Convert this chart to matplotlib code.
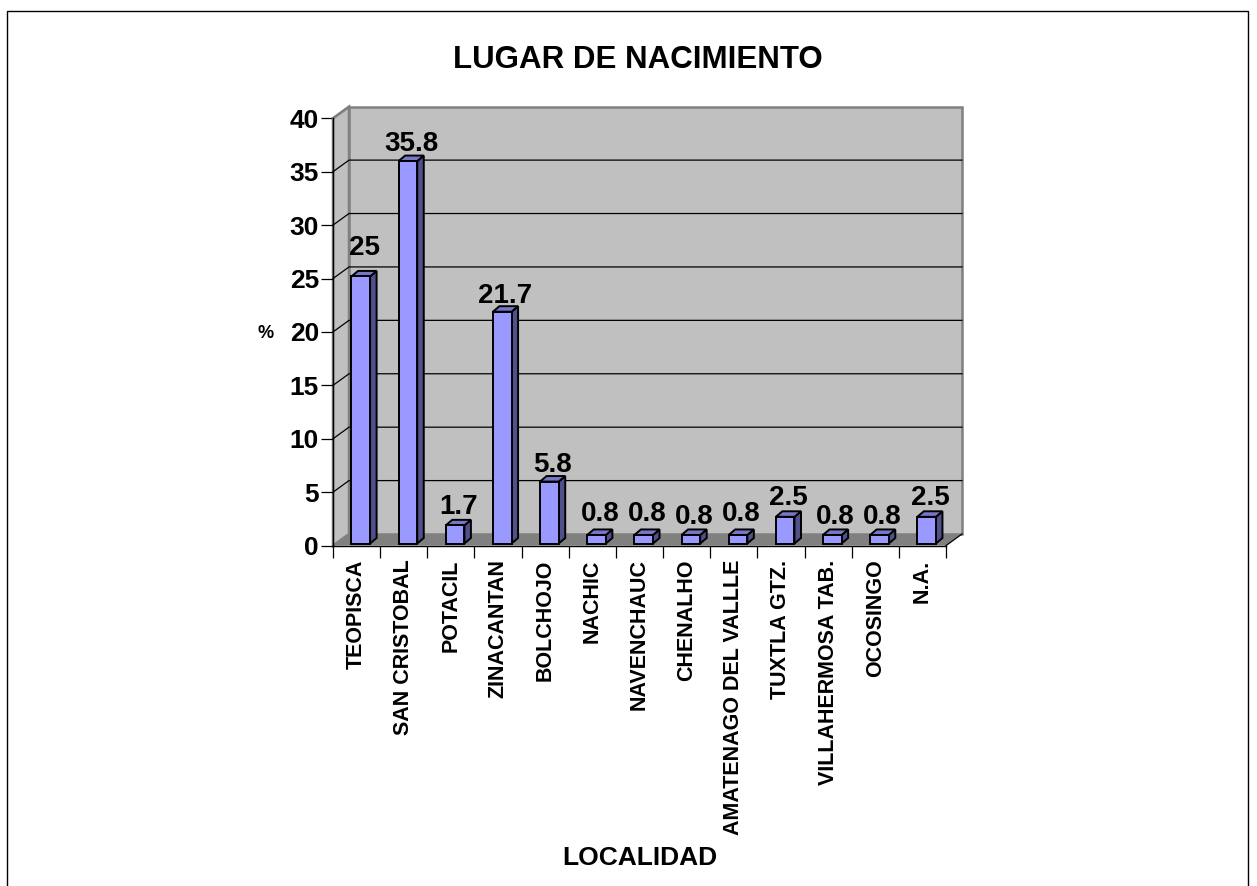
import matplotlib
matplotlib.use("Agg")
import matplotlib.pyplot as plt
from matplotlib.lines import Line2D
from matplotlib.patches import Polygon

plt.rcParams['font.family'] = ['Liberation Sans', 'DejaVu Sans']

categories = ["TEOPISCA", "SAN CRISTOBAL", "POTACIL", "ZINACANTAN", "BOLCHOJO", "NACHIC",
              "NAVENCHAUC", "CHENALHO", "AMATENAGO DEL VALLLE", "TUXTLA GTZ.",
              "VILLAHERMOSA TAB.", "OCOSINGO", "N.A."]
values = [25, 35.8, 1.7, 21.7, 5.8, 0.8, 0.8, 0.8, 0.8, 2.5, 0.8, 0.8, 2.5]
labels = ["25", "35.8", "1.7", "21.7", "5.8", "0.8", "0.8", "0.8", "0.8", "2.5", "0.8", "0.8", "2.5"]
y_ticks = [0, 5, 10, 15, 20, 25, 30, 35, 40]
label_lift_px = [23, 11.5, 13, 10.5, 11.5, 15.5, 15.5, 12.5, 15.5, 13.5, 12.5, 12.5, 13.5]

W, H = 1257, 886
fig = plt.figure(figsize=(W / 100, H / 100), dpi=100, facecolor='white')

# front plane of the 3-D box
L, R, TOP, BOT = 333, 946, 118.3, 545.6
ax = fig.add_axes([L / W, 1 - BOT / H, (R - L) / W, (BOT - TOP) / H])
ax.set_xlim(0, len(categories))
ax.set_ylim(0, 40)
ax.patch.set_visible(False)

px_x = (R - L) / len(categories)
px_y = (BOT - TOP) / 40
wall_dx, wall_dy = 16 / px_x, 11.6 / px_y
n, ymax = len(categories), 40
GRAY, EDGE = '#C0C0C0', '#808080'


def poly(pts, fc, ec='none', lw=0.0, z=1):
    ax.add_patch(Polygon(pts, closed=True, facecolor=fc, edgecolor=ec, linewidth=lw,
                         zorder=z, clip_on=False, joinstyle='miter'))


# left wall, back wall, floor
poly([(0, 0), (wall_dx, wall_dy), (wall_dx, ymax + wall_dy), (0, ymax)], GRAY, EDGE, 1.8, z=1)
poly([(wall_dx, wall_dy), (n + wall_dx, wall_dy), (n + wall_dx, ymax + wall_dy), (wall_dx, ymax + wall_dy)],
     GRAY, EDGE, 1.8, z=1)
poly([(0, 0), (n, 0), (n + wall_dx, wall_dy), (wall_dx, wall_dy)], EDGE, z=2)

# gridlines
for t in y_ticks[1:-1]:
    ax.plot([0, wall_dx, n + wall_dx], [t, t + wall_dy, t + wall_dy], color='black', lw=0.9,
            zorder=3, clip_on=False, solid_joinstyle='miter')
ax.plot([0, wall_dx], [ymax, ymax + wall_dy], color=EDGE, lw=1.6, zorder=3, clip_on=False)
ax.plot([n, n + wall_dx], [0, wall_dy], color='black', lw=0.9, zorder=3, clip_on=False)

# bars
bar_start, bar_w = 0.392, 0.395
bar_base = 2.1 / px_y
depth_x, depth_y = 6.5 / px_x, 5.5 / px_y
for i, v in enumerate(values):
    x0, x1 = i + bar_start, i + bar_start + bar_w
    y0, y1 = bar_base, bar_base + v
    poly([(x1, y0), (x1 + depth_x, y0 + depth_y), (x1 + depth_x, y1 + depth_y), (x1, y1)],
         '#50508C', 'black', 1.4, z=4)
    poly([(x0, y1), (x1, y1), (x1 + depth_x, y1 + depth_y), (x0 + depth_x, y1 + depth_y)],
         '#7777C8', 'black', 1.4, z=4)
    ax.bar(i + bar_start + bar_w / 2, v, width=bar_w, bottom=bar_base, color='#9999FF',
           edgecolor='black', linewidth=1.4, zorder=5, clip_on=False)
    ax.annotate(labels[i], (x0 + depth_x / 2 + bar_w / 2, y1 + depth_y),
                xytext=(0, label_lift_px[i] * 0.72), textcoords='offset points',
                ha='center', va='center', fontsize=20,
                fontweight='bold', color='black', zorder=6, annotation_clip=False)

# axes
for s in ('top', 'right'):
    ax.spines[s].set_visible(False)
for s in ('left', 'bottom'):
    ax.spines[s].set_linewidth(1.0)
    ax.spines[s].set_zorder(7)
ax.set_yticks(y_ticks)
ax.set_yticklabels([str(t) for t in y_ticks], fontsize=19, fontweight='bold')
ax.tick_params(axis='y', length=8.6, width=0.9, pad=1.5)
ax.set_xticks(range(n + 1))
ax.set_xticklabels([])
ax.tick_params(axis='x', which='major', length=8.6, width=0.9)
ax.set_xticks([i + 0.5 for i in range(n)], minor=True)
ax.set_xticklabels(categories, minor=True, rotation=90, fontsize=15.5, fontweight='bold')
ax.tick_params(axis='x', which='minor', length=0, pad=10)
for lab in ax.get_xticklabels(minor=True):
    lab.set_verticalalignment('top')
    lab.set_horizontalalignment('center')

# titles
def ftext(x, y, s, size, **kw):
    fig.text(x / W, 1 - y / H, s, fontsize=size, fontweight='bold', ha='center', va='center', **kw)

ftext(638, 59.5, "LUGAR DE NACIMIENTO", 22.5)
ftext(266, 334, "%", 13)
ftext(640, 858, "LOCALIDAD", 19)

# chart-area frame (no bottom edge, cropped in the source)
fx = [7.1 / W, 7.1 / W, 1248 / W, 1248 / W]
fy = [0, 1 - 11 / H, 1 - 11 / H, 0]
fig.add_artist(Line2D(fx, fy, color='black', lw=1.0, transform=fig.transFigure))

fig.savefig("out.png", dpi=100, facecolor='white')
